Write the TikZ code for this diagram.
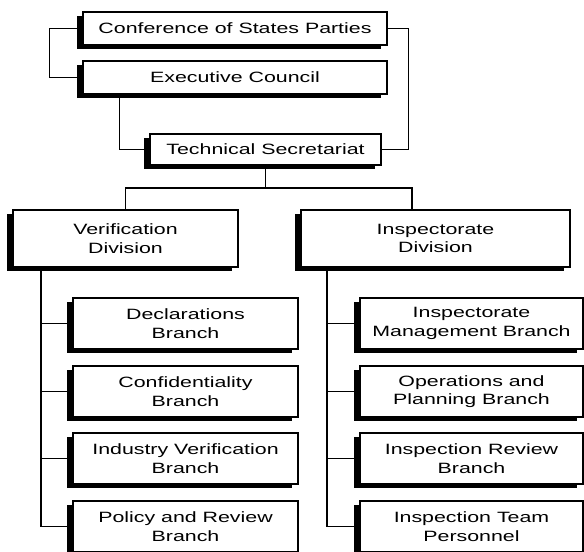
\documentclass[tikz,border=0pt]{standalone}
\usepackage{fontspec}
\newfontfamily\labfont[FakeStretch=1.43]{Liberation Sans}
\usetikzlibrary{shadows}
\tikzset{
  orgbox/.style={draw=black, line width=0.8pt, fill=white, align=center,
    inner sep=1pt,
    font=\labfont\fontsize{11.2}{14}\selectfont,
    general shadow={fill=black, shadow xshift=-4.5pt, shadow yshift=-3pt}},
  link/.style={draw=black, line width=1.35pt},
  thinlink/.style={draw=black, line width=0.8pt}
}
\begin{document}
\begin{tikzpicture}[x=0.75pt,y=-0.75pt]
\useasboundingbox (0,0) rectangle (584,551);
\clip (0,0) rectangle (584,551);
% top level
\node[orgbox, minimum width=228pt, minimum height=24.75pt] (csp) at (235,28.5) {Conference of States Parties};
\node[orgbox, minimum width=228pt, minimum height=24.75pt] (ec) at (235,77.5) {Executive Council};
\node[orgbox, minimum width=173.25pt, minimum height=23.25pt] (ts) at (265.5,149.5) {Technical Secretariat};
% divisions
\node[orgbox, minimum width=168.75pt, minimum height=42.75pt] (vd) at (125.5,238.5) {Verification\\Division};
\node[orgbox, minimum width=201.75pt, minimum height=42.75pt] (id) at (435.5,238.5) {Inspectorate\\Division};
% left branches
\node[orgbox, minimum width=168.75pt, minimum height=38.25pt] (l1) at (185.5,323.5) {Declarations\\Branch};
\node[orgbox, minimum width=168.75pt, minimum height=38.25pt] (l2) at (185.5,391.5) {Confidentiality\\Branch};
\node[orgbox, minimum width=168.75pt, minimum height=38.25pt] (l3) at (185.5,458.5) {Industry Verification\\Branch};
\node[orgbox, minimum width=168.75pt, minimum height=38.25pt] (l4) at (185.5,526.5) {Policy and Review\\Branch};
% right branches
\node[orgbox, minimum width=167.25pt, minimum height=38.25pt] (r1) at (471.5,323.5) {Inspectorate\\Management Branch};
\node[orgbox, minimum width=167.25pt, minimum height=38.25pt] (r2) at (471.5,391.5) {Operations and\\Planning Branch};
\node[orgbox, minimum width=167.25pt, minimum height=38.25pt] (r3) at (471.5,458.5) {Inspection Review\\Branch};
\node[orgbox, minimum width=167.25pt, minimum height=38.25pt] (r4) at (471.5,526.5) {Inspection Team\\Personnel};
% connectors top
\draw[link] (csp.west) -- ++(-33,0) |- (ec.west);
\draw[link] (csp.east) -- ++(21,0) |- (ts.east);
\draw[link] (ec.south west) ++(37,0) |- (ts.west);
\coordinate (bus) at (ts.south |- 0,188);
\coordinate (idin) at (id.north -| 412,0);
\draw[thinlink] (ts.south) -- (bus);
\draw[thinlink] (vd.north) |- (bus) -| (idin);
% left stem
\coordinate (vdout) at (vd.south -| 41,0);
\draw[link] (vdout) |- (l4.west);
\draw[link] (l1.west -| 41,0) -- (l1.west);
\draw[link] (l2.west -| 41,0) -- (l2.west);
\draw[link] (l3.west -| 41,0) -- (l3.west);
% right stem
\coordinate (idout) at (id.south -| 327,0);
\draw[link] (idout) |- (r4.west);
\draw[link] (r1.west -| 327,0) -- (r1.west);
\draw[link] (r2.west -| 327,0) -- (r2.west);
\draw[link] (r3.west -| 327,0) -- (r3.west);
\end{tikzpicture}
\end{document}
